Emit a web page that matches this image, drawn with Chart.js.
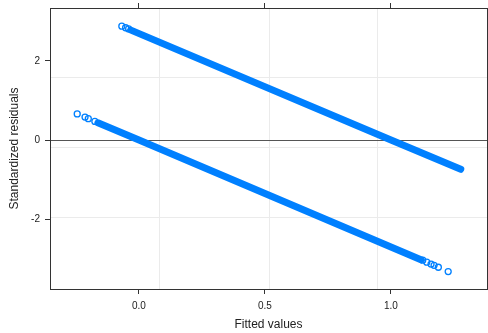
<!DOCTYPE html>
<html>
<head>
<meta charset="utf-8">
<script src="https://cdn.jsdelivr.net/npm/chart.js@4.4.1/dist/chart.umd.min.js"></script>
<style>
    body { margin: 0; background: #fff; }
    #residChart { display: block; }
</style>
</head>
<body>
<canvas id="residChart" width="488" height="333"></canvas>
<script>
// Values
// upper band (observations with y = 1)
const upperBandFitted = [-0.032, 1.0, 1.277];
const upperBandResid = [2.78, 0.0, -0.74];
const upperLooseFitted = [-0.068, -0.053, -0.041];
const upperLooseResid = [2.88, 2.84, 2.81];

// lower band (observations with y = 0)
const lowerBandFitted = [-0.163, 0.0, 1.119];
const lowerBandResid = [0.435, 0.0, -3.03];
const lowerLooseFitted = [-0.245, -0.214, -0.201, -0.175, 1.126, 1.142, 1.159, 1.171, 1.188, 1.227];
const lowerLooseResid = [0.66, 0.58, 0.54, 0.47, -3.04, -3.09, -3.14, -3.17, -3.22, -3.33];

const xTicks = [0, 0.5, 1.0];
const yTicks = [-2, 0, 2];
const xGrid = [0.083, 0.516, 0.948];
const yGrid = [-1.97, -0.2, 1.57];

const xRange = [-0.353, 1.381];
const yRange = [-3.77, 3.34];

const blue = '#0080ff';
const frame = '#333';
const gridGrey = '#ebebeb';
const font = 'Liberation Sans, Arial, sans-serif';

function toPoints(xs, ys) {
    return xs.map((x, i) => ({ x: x, y: ys[i] }));
}

function bandSet(xs, ys) {
    return {
        type: 'line',
        data: toPoints(xs, ys),
        borderColor: blue,
        borderWidth: 7,
        borderCapStyle: 'round',
        pointRadius: 0,
        fill: false
    };
}

function looseSet(xs, ys) {
    return {
        data: toPoints(xs, ys),
        borderColor: blue,
        backgroundColor: 'rgba(0,0,0,0)',
        pointRadius: 3,
        pointBorderWidth: 1.3,
        showLine: false
    };
}

function setTicks(values) {
    return function (scale) {
        scale.ticks = values.map(v => ({ value: v }));
    };
}

// fixed axis sizes, and no extra label padding pushed into the layout
function fixSize(prop, size) {
    return function (scale) {
        scale[prop] = size;
        scale.paddingTop = 0;
        scale.paddingBottom = 0;
        scale.paddingLeft = 0;
        scale.paddingRight = 0;
    };
}

const ctx = document.getElementById('residChart').getContext('2d');
const chart = new Chart(ctx, {
    type: 'scatter',
    data: {
        datasets: [
            bandSet(upperBandFitted, upperBandResid),
            bandSet(lowerBandFitted, lowerBandResid),
            looseSet(upperLooseFitted, upperLooseResid),
            looseSet(lowerLooseFitted, lowerLooseResid)
        ]
    },
    options: {
        responsive: false,
        animation: false,
        layout: { autoPadding: false, padding: { top: 3, right: 1, left: 0, bottom: 0 } },
        plugins: {
            legend: { display: false },
            tooltip: { enabled: false }
        },
        scales: {
            x: {
                type: 'linear',
                position: 'bottom',
                min: xRange[0],
                max: xRange[1],
                afterBuildTicks: setTicks(xTicks),
                afterFit: fixSize('height', 44),
                ticks: {
                    color: '#222',
                    padding: 6,
                    maxRotation: 0,
                    font: { family: font, size: 10 },
                    callback: v => v.toFixed(1)
                },
                grid: { drawOnChartArea: false, tickLength: 5, tickColor: frame, tickWidth: 1 },
                border: { display: true, color: frame, width: 1 },
                title: {
                    display: true,
                    text: 'Fitted values',
                    color: '#222',
                    font: { family: font, size: 12 },
                    padding: { top: 0, bottom: 1 }
                }
            },
            xTop: {
                type: 'linear',
                position: 'top',
                min: xRange[0],
                max: xRange[1],
                afterBuildTicks: setTicks(xTicks),
                afterFit: fixSize('height', 5),
                ticks: { display: false },
                grid: { drawOnChartArea: false, tickLength: 5, tickColor: frame, tickWidth: 1 },
                border: { display: true, color: frame, width: 1 }
            },
            xGridAxis: {
                type: 'linear',
                position: 'top',
                min: xRange[0],
                max: xRange[1],
                afterBuildTicks: setTicks(xGrid),
                afterFit: fixSize('height', 0),
                ticks: { display: false },
                grid: { color: gridGrey, lineWidth: 1, drawTicks: false },
                border: { display: false }
            },
            y: {
                type: 'linear',
                position: 'left',
                min: yRange[0],
                max: yRange[1],
                afterBuildTicks: setTicks(yTicks),
                afterFit: fixSize('width', 50),
                ticks: {
                    color: '#222',
                    padding: 5,
                    font: { family: font, size: 10 },
                    callback: v => String(v)
                },
                grid: {
                    color: c => (c.tick && c.tick.value === 0) ? '#555' : 'rgba(0,0,0,0)',
                    lineWidth: 1,
                    tickLength: 5,
                    tickColor: frame,
                    tickWidth: 1
                },
                border: { display: true, color: frame, width: 1 },
                title: {
                    display: true,
                    text: 'Standardized residuals',
                    color: '#222',
                    font: { family: font, size: 12 },
                    padding: { top: 7, bottom: 0 }
                }
            },
            yGridAxis: {
                type: 'linear',
                position: 'right',
                min: yRange[0],
                max: yRange[1],
                afterBuildTicks: setTicks(yGrid),
                afterFit: fixSize('width', 0),
                ticks: { display: false },
                grid: { color: gridGrey, lineWidth: 1, drawTicks: false },
                border: { display: true, color: frame, width: 1 }
            }
        }
    }
});
</script>
</body>
</html>
